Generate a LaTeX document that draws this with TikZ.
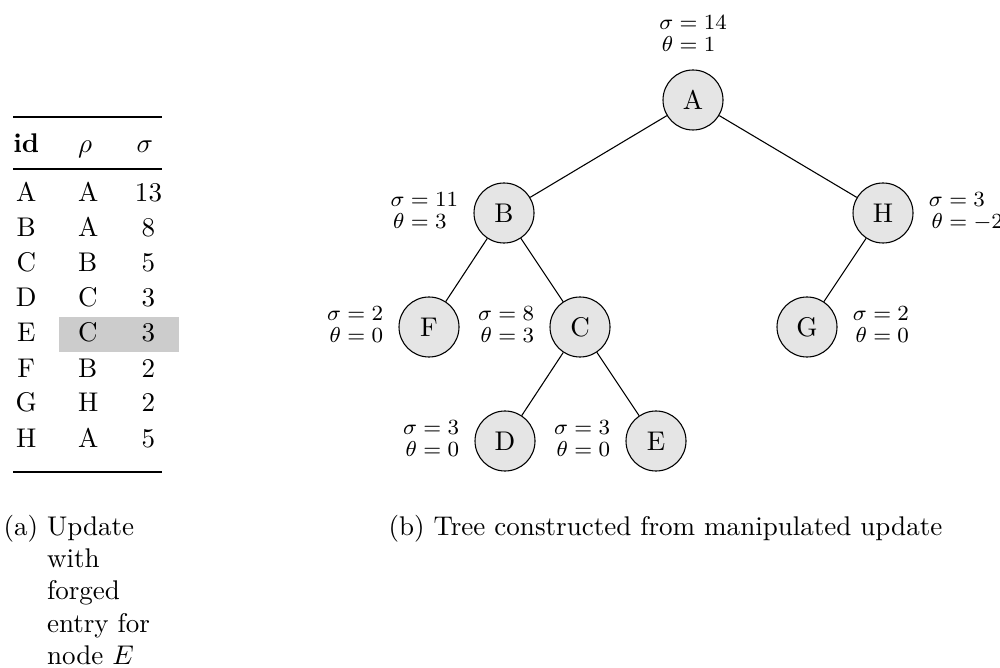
\documentclass[tikz,border=0pt]{standalone}
\usepackage{amsmath}

% two-line node annotation: sigma and theta, aligned at the equals sign
\newcommand{\sigtheta}[2]{$\renewcommand{\arraystretch}{0.85}%
  \begin{array}{@{}r@{}l@{}}\sigma&{}=#1\\\theta&{}=#2\end{array}$}

\begin{document}
\begin{tikzpicture}[x=0.37pt,y=-0.37pt,
  treenode/.style={circle,draw,fill=black!10,minimum size=22.2pt,inner sep=0pt},
  ann/.style={font=\footnotesize,inner sep=1pt},
  sidelab/.style={ann,label distance=4.5pt},
  toplab/.style={ann,label distance=3.2pt},
  cell/.style={anchor=base west,inner sep=0pt},
  ccell/.style={anchor=base,inner sep=0pt},
  heavyrule/.style={line width=0.8pt},
  lightrule/.style={line width=0.5pt},
  caption/.style={anchor=base west,inner sep=0pt}]

\useasboundingbox (0,0) rectangle (1000,668);

% ---------------- table: the forged update ----------------
\fill[black!20] (59,317) rectangle (179,352);

\coordinate (tl) at (13,117);  \coordinate (tr) at (162,117);
\coordinate (ml) at (13,169);  \coordinate (mr) at (162,169);
\coordinate (bl) at (13,472);  \coordinate (br) at (162,472);
\draw[heavyrule] (tl) -- (tr);
\draw[lightrule] (ml) -- (mr);
\draw[heavyrule] (bl) -- (br);

\node[ccell] (hid)  at (26.3,153) {\textbf{id}};
\node[cell]  (hrho) at (77.7,153) {$\rho$};
\node[cell]  (hsig) at (136,153)  {$\sigma$};

\foreach \nid/\npar/\nsig [count=\k from 0] in
  {A/A/13, B/A/8, C/B/5, D/C/3, E/C/3, F/B/2, G/H/2, H/A/5} {
  \node[ccell] (id\k)  at (26.3,202+35*\k)  {\nid};
  \node[cell]  (par\k) at (77.7,202+35*\k)  {\npar};
  \node[ccell] (sig\k) at (148.5,202+35*\k) {\nsig};
}

\node[caption] (capa) at (3,535)
  {(a)\space\begin{tabular}[t]{@{}l@{}}Update\\with\\forged\\entry for\\node $E$\end{tabular}};

% ---------------- tree built from the update ----------------
\node[treenode,label={[toplab,name=Al]above:\sigtheta{14}{1}}]   (A) at (693,100) {A};
\node[treenode,label={[sidelab,name=Bl]left:\sigtheta{11}{3}}]   (B) at (504,213) {B};
\node[treenode,label={[sidelab,name=Hl]right:\sigtheta{3}{-2}}]  (H) at (883,213) {H};
\node[treenode,label={[sidelab,name=Fl]left:\sigtheta{2}{0}}]    (F) at (429,327) {F};
\node[treenode,label={[sidelab,name=Cl]left:\sigtheta{8}{3}}]    (C) at (580,327) {C};
\node[treenode,label={[sidelab,name=Gl]right:\sigtheta{2}{0}}]   (G) at (807,327) {G};
\node[treenode,label={[sidelab,name=Dl]left:\sigtheta{3}{0}}]    (D) at (505,441) {D};
\node[treenode,label={[sidelab,name=El]left:\sigtheta{3}{0}}]    (E) at (656,441) {E};

\draw (A) -- (B);
\draw (A) -- (H);
\draw (B) -- (F);
\draw (B) -- (C);
\draw (H) -- (G);
\draw (C) -- (D);
\draw (C) -- (E);

\node[caption] (capb) at (388,535) {(b) Tree constructed from manipulated update};

\end{tikzpicture}
\end{document}
